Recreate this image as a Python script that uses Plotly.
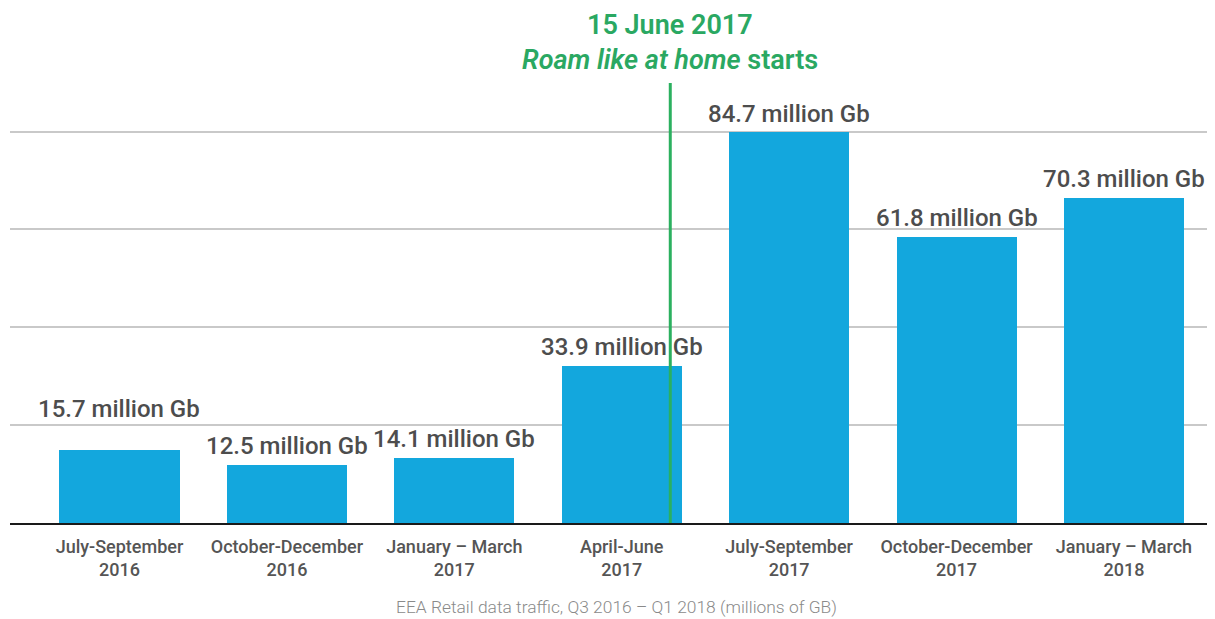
import plotly.graph_objects as go

categories = ["July-September<br>2016", "October-December<br>2016", "January – March<br>2017",
              "April-June<br>2017", "July-September<br>2017", "October-December<br>2017",
              "January – March<br>2018"]
values = [15.7, 12.5, 14.1, 33.9, 84.7, 61.8, 70.3]
labels = [f"{v} million Gb" for v in values]
event_position = 3.29  # 15 June 2017, within the April-June 2017 quarter
event_title = "15 June 2017"
event_subtitle = "<i>Roam like at home</i> starts"
caption = "EEA Retail data traffic, Q3 2016 – Q1 2018 (millions of GB)"

FONT = "Roboto"
x_idx = list(range(len(categories)))
ymax = 95.2
grid_vals = [max(values) * k / 4 for k in range(0, 5)]
# extra lift (px) of a value label above its bar, as in the original layout
label_base_gap = 3
label_lift = {0: 22, 4: -1}

fig = go.Figure()
fig.add_trace(go.Bar(
    x=x_idx, y=values, width=0.717,
    marker=dict(color="#13a7dd", line=dict(width=0)),
    hoverinfo="skip",
))

for i, (v, lab) in enumerate(zip(values, labels)):
    fig.add_annotation(xref="x", yref="y", x=i, y=v, yanchor="bottom",
                       yshift=label_base_gap + label_lift.get(i, 0), showarrow=False, text=lab,
                       font=dict(family=FONT, size=24, color="#4d4d4d", weight=500))

fig.add_shape(type="line", xref="x", yref="y", x0=event_position, x1=event_position,
              y0=0, y1=ymax, line=dict(color="#2bb05f", width=3), layer="above")

fig.add_annotation(xref="x", yref="paper", x=event_position, y=1, yshift=58,
                   text=event_title, showarrow=False, yanchor="middle",
                   font=dict(family=FONT, size=27, color="#2aa862", weight=600))
fig.add_annotation(xref="x", yref="paper", x=event_position, y=1, yshift=23,
                   text=event_subtitle, showarrow=False, yanchor="middle",
                   font=dict(family=FONT, size=27, color="#2aa862", weight=600))
fig.add_annotation(xref="paper", yref="paper", x=0.505, y=0, yshift=-84,
                   text=caption, showarrow=False, yanchor="middle",
                   font=dict(family=FONT, size=17.4, color="#8a8a8a", weight=300))

fig.update_layout(
    width=1207, height=611,
    margin=dict(l=2, r=5, t=75, b=96),
    paper_bgcolor="white", plot_bgcolor="white",
    showlegend=False,
    bargap=0,
    xaxis=dict(range=[-0.654, 6.514], tickvals=x_idx, ticktext=categories,
               showgrid=False, showline=True, linecolor="#1a1a1a", linewidth=2,
               ticks="", ticklabelstandoff=6, zeroline=False,
               tickfont=dict(family=FONT, size=18, color="#555555", weight=500)),
    yaxis=dict(range=[0, ymax], tickvals=grid_vals, showticklabels=False,
               showgrid=True, gridcolor="#c9c9c9", gridwidth=1.5, zeroline=False,
               showline=False),
)

fig.write_html("out.html")
